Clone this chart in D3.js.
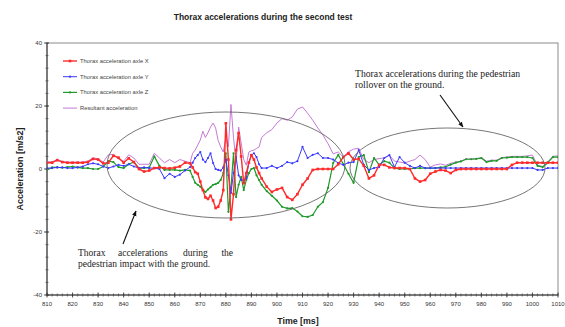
<!DOCTYPE html>
<html>
<head>
<meta charset="utf-8">
<script src="https://cdn.jsdelivr.net/npm/d3@7"></script>
<style>
  body { margin: 0; background: #fff; }
  svg { display: block; }
  text { font-family: Arial, "Liberation Sans", sans-serif; }
  .serif { font-family: "Liberation Serif", "DejaVu Serif", serif; }
</style>
</head>
<body>
<div id="chart"></div>
<script>
// sample times (ms)
const time = [
  810, 812, 814, 816, 818, 820, 822, 824, 826, 828, 830, 832, 834, 836, 838, 840, 842, 844, 846, 848, 850, 852, 854, 856, 858, 860, 862, 864,
  866, 867, 868, 869, 870, 871, 872, 873, 874, 875, 876, 877, 878, 879, 880, 881, 882, 883, 884, 885, 886, 887, 888, 889, 890, 891, 892, 893,
  894, 896, 898, 900, 902, 904, 906, 908, 910, 912, 914, 916, 918, 920, 922, 924, 926, 928, 930, 932, 934, 936, 938, 940, 942, 944, 946, 948,
  950, 952, 954, 956, 958, 960, 962, 964, 966, 968, 970, 972, 974, 976, 978, 980, 982, 984, 986, 988, 990, 992, 994, 996, 998, 1000, 1002,
  1004, 1006, 1008, 1010
];

// axle X
const axleX = [
  2.0, 2.0, 2.8, 2.2, 2.0, 2.0, 2.0, 2.0, 2.2, 3.2, 3.0, 1.8, 2.0, 4.2, 3.6, 2.0, 3.4, 2.2, 0.0, -0.8, -0.5, 0.3, 0.5, 0.3, 0.2, 0.4, 0.8, 2.0,
  1.8, 0.5, -1.0, -1.5, -4.0, -6.7, -9.0, -9.5, -8.5, -10.0, -12.4, -12.0, -10.0, -6.7, 14.5, 3.0, -16.0, -8.0, 6.0, 11.4, 4.0, -4.5, -1.3, 2.0, 4.4, 3.0, 0.5, -1.3,
  -3.0, -5.6, -7.3, -6.5, -6.0, -8.9, -9.8, -8.0, -5.0, -3.0, -0.3, 0.0, 0.0, 0.0, 0.0, 1.5, 3.8, 5.0, 3.0, 3.2, 1.0, -3.0, -2.0, 1.3, 1.3, 0.5, 0.3, 0.3,
  0.3, 0.0, -3.0, -4.0, -3.5, -1.5, -0.8, -0.3, -0.5, -1.3, -0.3, 0.0, 0.0, 0.0, 0.0, 0.0, 0.0, 0.0, 0.0, 0.0, 0.0, 1.3, 2.0, 2.0, 2.0, 2.0, 2.0,
  2.0, 2.0, 2.0, 2.0
];

// axle Y
const axleY = [
  0.3, 0.3, 0.5, 0.5, 0.3, 0.3, 0.5, 0.8, 1.5, 1.8, 1.5, 0.8, 0.3, 0.8, 1.3, 1.0, 1.5, 0.8, 0.3, 0.5, 0.3, 0.3, 0.0, -2.9, -1.5, -2.5, -1.8, -0.5,
  0.6, 2.0, 3.5, 4.4, 5.4, 3.0, 2.2, 3.5, 5.0, 1.9, 0.0, -0.3, -0.5, 0.5, 3.0, -2.0, -7.6, -1.3, 3.8, -2.0, -3.5, -3.5, -3.0, 2.0, 4.4, 5.0, 3.8, 1.5,
  0.3, 0.3, 1.0, 0.3, 1.0, 2.2, 1.8, 2.5, 7.0, 3.5, 4.5, 5.0, 3.5, 3.5, 3.0, 1.9, 1.3, 2.0, 2.2, 6.0, 1.3, -0.3, 0.3, 0.6, 3.5, 4.4, 0.6, 3.8,
  2.0, 1.0, 0.3, 1.0, 0.3, 0.3, 0.3, 0.3, 0.3, 0.3, 0.3, 0.3, 0.3, 0.3, 0.3, 0.3, 0.3, 0.3, 0.3, 0.3, 0.3, 0.3, 0.3, 0.3, 0.3, 0.3, -0.3,
  -0.3, 0.3, 0.3, 0.3
];

// axle Z
const axleZ = [
  -0.3, 0.5, 0.5, 0.4, 0.6, 0.8, 0.5, 0.3, 0.3, 0.0, 0.0, 0.8, 2.5, 2.2, 0.6, 0.3, 1.5, 2.2, 0.3, 0.3, 0.5, 4.0, 1.0, -0.3, -0.3, -0.3, -0.5, -0.3,
  -0.5, -2.5, -4.4, -5.0, -5.6, -6.5, -7.3, -6.5, -5.8, -5.0, -4.8, -4.4, -3.5, -1.3, 5.0, -13.6, -6.0, 5.0, -8.9, -5.0, -2.5, -6.7, -3.5, -1.3, 0.0, 0.3, -2.0, -3.5,
  -5.0, -7.0, -8.5, -10.0, -12.0, -12.5, -12.4, -13.5, -15.0, -15.2, -14.6, -12.0, -10.5, -6.0, 1.9, 4.5, 1.5, -1.5, -4.4, 3.8, 4.4, -1.0, 3.5, 1.3, 2.5, 2.0, 0.3, 0.0,
  0.0, 0.0, 0.3, 0.3, 0.3, 0.3, 0.3, 0.5, 0.7, 1.4, 2.0, 2.4, 3.1, 3.1, 3.2, 3.5, 2.2, 2.6, 2.6, 3.5, 3.6, 3.8, 3.8, 3.8, 3.8, 3.5, 1.0,
  0.6, 2.0, 3.8, 3.8
];

// resultant
const resultant = [
  2.3, 2.3, 3.0, 2.4, 2.2, 2.2, 2.2, 2.2, 2.5, 3.5, 3.3, 2.2, 4.5, 4.6, 3.2, 2.5, 4.5, 3.5, 1.5, 1.5, 1.5, 5.0, 3.5, 2.0, 3.0, 2.0, 3.0, 2.5,
  2.0, 5.0, 6.0, 7.6, 9.2, 12.0, 10.0, 11.5, 13.3, 14.6, 13.0, 9.0, 7.0, 5.4, 10.0, 7.0, 20.5, 10.0, 2.0, 13.3, 8.2, 3.0, 1.2, 5.4, 5.8, 6.0, 6.5, 7.0,
  10.0, 11.5, 12.5, 14.6, 16.0, 15.5, 16.5, 19.0, 19.7, 17.7, 15.5, 13.0, 10.8, 8.0, 4.8, 5.4, 3.8, 5.5, 6.3, 6.6, 3.0, 2.0, 3.0, 3.3, 3.5, 4.4, 2.5, 2.2,
  1.9, 2.5, 3.0, 4.4, 3.0, 0.6, 1.3, 1.6, 1.2, 1.8, 2.2, 2.5, 3.2, 3.2, 3.3, 3.6, 2.5, 2.8, 2.8, 3.6, 3.8, 4.0, 4.0, 4.0, 4.2, 4.4, 1.2,
  0.8, 2.3, 4.0, 4.2
];

const seriesNames = ['Thorax acceleration axle X', 'Thorax acceleration axle Y', 'Thorax acceleration axle Z', 'Resultant acceleration'];
const xTicks = [810, 820, 830, 840, 850, 860, 870, 880, 890, 900, 910, 920, 930, 940, 950, 960, 970, 980, 990, 1000, 1010];
const yTicks = [-40, -20, 0, 20, 40];

const width = 565;
const height = 327;
const margin = { top: 43, right: 7, bottom: 32, left: 47 };

const scaleX = d3.scaleLinear().domain([810, 1010]).range([margin.left, width - margin.right]);
const scaleY = d3.scaleLinear().domain([-40, 40]).range([height - margin.bottom, margin.top]);

const $svg = d3.select('#chart').append('svg')
  .attr('width', width)
  .attr('height', height);

// title
$svg.append('text')
  .attr('x', 263).attr('y', 20)
  .attr('text-anchor', 'middle')
  .attr('font-size', 8.5).attr('font-weight', 'bold').attr('fill', '#222')
  .text('Thorax accelerations during the second test');

// plot frame
$svg.append('rect')
  .attr('x', scaleX(810)).attr('y', scaleY(40))
  .attr('width', scaleX(1010) - scaleX(810))
  .attr('height', scaleY(-40) - scaleY(40))
  .attr('fill', 'none').attr('stroke', '#8a8a8a').attr('stroke-width', 1);

// axes
const $ax = $svg.append('g');
$ax.append('line')
  .attr('x1', scaleX(810)).attr('x2', scaleX(1010))
  .attr('y1', scaleY(-40)).attr('y2', scaleY(-40))
  .attr('stroke', '#333');
$ax.append('line')
  .attr('x1', scaleX(810)).attr('x2', scaleX(810))
  .attr('y1', scaleY(-40)).attr('y2', scaleY(40))
  .attr('stroke', '#333');

// x ticks, minor every 2 ms
$ax.selectAll('.xminor').data(d3.range(810, 1011, 2)).enter().append('line')
  .attr('x1', d => scaleX(d)).attr('x2', d => scaleX(d))
  .attr('y1', scaleY(-40) - 1.5).attr('y2', scaleY(-40) + 1.5)
  .attr('stroke', '#444').attr('stroke-width', 0.7);
$ax.selectAll('.xmajor').data(xTicks).enter().append('line')
  .attr('x1', d => scaleX(d)).attr('x2', d => scaleX(d))
  .attr('y1', scaleY(-40) - 2.5).attr('y2', scaleY(-40) + 2.5)
  .attr('stroke', '#333').attr('stroke-width', 0.8);
$ax.selectAll('.xlab').data(xTicks).enter().append('text')
  .attr('x', d => scaleX(d)).attr('y', scaleY(-40) + 11)
  .attr('text-anchor', 'middle')
  .attr('font-size', 6).attr('fill', '#333')
  .text(d => d);

// y ticks, minor every 4
$ax.selectAll('.yminor').data(d3.range(-40, 41, 4)).enter().append('line')
  .attr('x1', scaleX(810) - 1.5).attr('x2', scaleX(810) + 1.5)
  .attr('y1', d => scaleY(d)).attr('y2', d => scaleY(d))
  .attr('stroke', '#444').attr('stroke-width', 0.7);
$ax.selectAll('.ymajor').data(yTicks).enter().append('line')
  .attr('x1', scaleX(810) - 3).attr('x2', scaleX(810) + 2)
  .attr('y1', d => scaleY(d)).attr('y2', d => scaleY(d))
  .attr('stroke', '#333').attr('stroke-width', 0.8);
$ax.selectAll('.ylab').data(yTicks).enter().append('text')
  .attr('x', scaleX(810) - 5).attr('y', d => scaleY(d) + 2)
  .attr('text-anchor', 'end')
  .attr('font-size', 6).attr('fill', '#333')
  .text(d => d);

// axis titles
$svg.append('text')
  .attr('transform', `translate(23, ${scaleY(0)}) rotate(-90)`)
  .attr('text-anchor', 'middle')
  .attr('font-size', 9).attr('font-weight', 'bold').attr('fill', '#222')
  .text('Acceleration [m/s2]');
$svg.append('text')
  .attr('x', 298).attr('y', 324)
  .attr('text-anchor', 'middle')
  .attr('font-size', 8.8).attr('font-weight', 'bold').attr('fill', '#222')
  .text('Time [ms]');

// series
const series = [
  { name: seriesNames[0], values: axleX, color: '#ff2a2a', width: 1.4, marker: 'square', size: 2.6 },
  { name: seriesNames[1], values: axleY, color: '#3a3aff', width: 1, marker: 'dot', size: 1.1 },
  { name: seriesNames[2], values: axleZ, color: '#1f9a2a', width: 1.2, marker: 'dot', size: 1.1 },
  { name: seriesNames[3], values: resultant, color: '#c67ad6', width: 1, marker: null }
];

$svg.append('clipPath').attr('id', 'clip')
  .append('rect')
  .attr('x', scaleX(810)).attr('y', scaleY(40))
  .attr('width', scaleX(1010) - scaleX(810))
  .attr('height', scaleY(-40) - scaleY(40));

const $vis = $svg.append('g').attr('clip-path', 'url(#clip)');
const line = d3.line().x(d => scaleX(d[0])).y(d => scaleY(d[1]));

// draw resultant first, then Z, Y, X on top
[3, 2, 1, 0].forEach(i => {
  const s = series[i];
  const pts = time.map((t, j) => [t, s.values[j]]);
  $vis.append('path')
    .datum(pts)
    .attr('d', line)
    .attr('fill', 'none')
    .attr('stroke', s.color)
    .attr('stroke-width', s.width)
    .attr('stroke-linejoin', 'round');
  if (s.marker === 'square') {
    $vis.selectAll(null).data(pts).enter().append('rect')
      .attr('x', d => scaleX(d[0]) - s.size / 2)
      .attr('y', d => scaleY(d[1]) - s.size / 2)
      .attr('width', s.size).attr('height', s.size)
      .attr('fill', s.color);
  } else if (s.marker === 'dot') {
    $vis.selectAll(null).data(pts).enter().append('circle')
      .attr('cx', d => scaleX(d[0]))
      .attr('cy', d => scaleY(d[1]))
      .attr('r', s.size)
      .attr('fill', s.color);
  }
});

// legend
const $legend = $svg.append('g');
series.forEach((s, i) => {
  const ly = 61 + i * 15.7;
  $legend.append('line')
    .attr('x1', 63).attr('x2', 77).attr('y1', ly).attr('y2', ly)
    .attr('stroke', s.color).attr('stroke-width', s.width);
  if (s.marker === 'square') {
    $legend.append('rect')
      .attr('x', 70 - s.size / 2).attr('y', ly - s.size / 2)
      .attr('width', s.size).attr('height', s.size).attr('fill', s.color);
  } else if (s.marker === 'dot') {
    $legend.append('circle').attr('cx', 70).attr('cy', ly).attr('r', s.size).attr('fill', s.color);
  }
  $legend.append('text')
    .attr('x', 80).attr('y', ly + 2)
    .attr('font-size', 5.8).attr('fill', '#444')
    .text(s.name);
});

// annotations
const $ann = $svg.append('g');
$ann.append('ellipse')
  .attr('cx', 226).attr('cy', 165).attr('rx', 119).attr('ry', 53)
  .attr('fill', 'none').attr('stroke', '#666').attr('stroke-width', 0.9);
$ann.append('ellipse')
  .attr('cx', 447.5).attr('cy', 168).attr('rx', 97.5).attr('ry', 40)
  .attr('fill', 'none').attr('stroke', '#666').attr('stroke-width', 0.9);

$svg.append('defs').append('marker')
  .attr('id', 'arrow')
  .attr('viewBox', '0 0 10 10')
  .attr('refX', 9).attr('refY', 5)
  .attr('markerWidth', 5).attr('markerHeight', 5)
  .attr('orient', 'auto')
  .append('path').attr('d', 'M0,1 L10,5 L0,9 Z').attr('fill', '#111');

$ann.append('line')
  .attr('x1', 440).attr('y1', 95).attr('x2', 463).attr('y2', 127)
  .attr('stroke', '#111').attr('stroke-width', 1.1)
  .attr('marker-end', 'url(#arrow)');
$ann.append('line')
  .attr('x1', 123).attr('y1', 244).attr('x2', 136).attr('y2', 211)
  .attr('stroke', '#111').attr('stroke-width', 1.1)
  .attr('marker-end', 'url(#arrow)');

$ann.append('text').attr('class', 'serif')
  .attr('x', 355).attr('y', 77)
  .attr('font-size', 9.7).attr('fill', '#222')
  .text('Thorax accelerations during the pedestrian');
$ann.append('text').attr('class', 'serif')
  .attr('x', 355).attr('y', 88)
  .attr('font-size', 9.7).attr('fill', '#222')
  .text('rollover on the ground.');

// justified first line of the left note
const leftWords = [['Thorax', 78, 'start'], ['accelerations', 118, 'start'], ['during', 183, 'start'], ['the', 233, 'end']];
leftWords.forEach(w => {
  $ann.append('text').attr('class', 'serif')
    .attr('x', w[1]).attr('y', 256)
    .attr('text-anchor', w[2])
    .attr('font-size', 9.5).attr('fill', '#222')
    .text(w[0]);
});
$ann.append('text').attr('class', 'serif')
  .attr('x', 78).attr('y', 267)
  .attr('font-size', 9.5).attr('fill', '#222')
  .text('pedestrian impact with the ground.');
</script>
</body>
</html>
